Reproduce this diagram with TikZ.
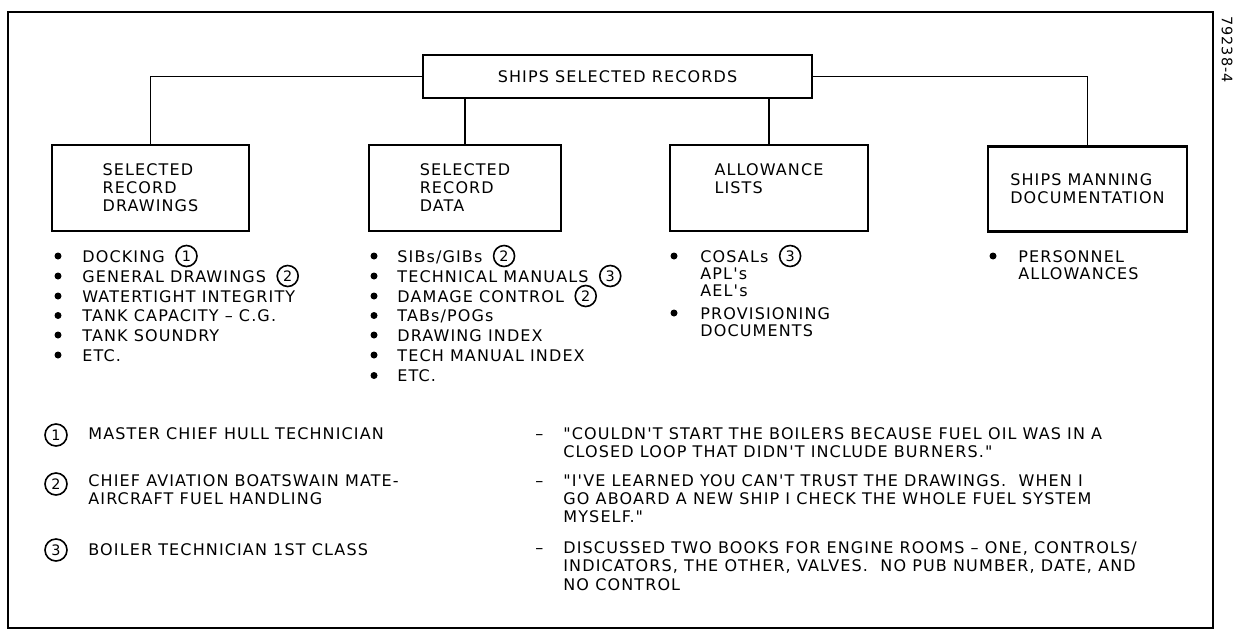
\documentclass[tikz,border=0pt]{standalone}
\usepackage{fontspec}
\newfontfamily\df[LetterSpace=7]{DejaVu Sans}
\newcommand\lab{\df\fontsize{8.0}{9}\selectfont}
\newcommand\smalllab{\df\fontsize{7.2}{7}\selectfont}
\begin{document}
\begin{tikzpicture}[x=0.5pt,y=-0.5pt,
  box/.style={draw, line width=1.35pt, align=left, font=\lab, inner sep=0pt},
  conn/.style={line width=0.75pt},
  txt/.style={anchor=base west, inner sep=0pt, font=\lab},
  cn/.style={circle, draw, line width=0.8pt, minimum size=10.5pt, inner sep=0pt, font=\smalllab},
  bul/.style={circle, fill, minimum size=3.5pt, inner sep=0pt}]
\useasboundingbox (0,0) rectangle (1234,632);
% frame
\draw[line width=0.75pt] (8,12) rectangle (1213,628);
\node[rotate=-90, anchor=west, inner sep=0pt, font=\smalllab] (code) at (1227,16) {79238-4};
% boxes
\node[box, minimum width=194.5pt, minimum height=21.5pt] (top) at (617.5,76.5) {SHIPS SELECTED RECORDS};
\node[box, minimum width=98.5pt, minimum height=43pt] (b1) at (150.5,188) {SELECTED\\RECORD\\DRAWINGS};
\node[box, minimum width=96pt, minimum height=43pt] (b2) at (465,188) {SELECTED\\RECORD\\DATA};
\node[box, minimum width=99pt, minimum height=43pt] (b3) at (769,188) {ALLOWANCE\\LISTS\\\mbox{}};
\node[box, minimum width=99.5pt, minimum height=42.5pt] (b4) at (1087.5,189) {SHIPS MANNING\\DOCUMENTATION};
% connectors
\draw[conn] (top.west) -| (b1.north);
\draw[conn] (top.east) -| (b4.north);
\draw[conn] (b2.north) -- (b2.north |- top.south);
\draw[conn] (b3.north) -- (b3.north |- top.south);
% column 1
\node[bul] (u11) at (58,256) {};
\node[txt] (t11) at (82,262) {DOCKING};
\node[cn, anchor=west] (c11) at ([xshift=5]t11.east |- u11) {1};
\node[bul] (u12) at (58,276) {};
\node[txt] (t12) at (82,282) {GENERAL DRAWINGS};
\node[cn, anchor=west] (c12) at ([xshift=5]t12.east |- u12) {2};
\node[bul] (u13) at (58,296) {};
\node[txt] (t13) at (82,302) {WATERTIGHT INTEGRITY};
\node[bul] (u14) at (58,315.5) {};
\node[txt] (t14) at (82,321.5) {TANK CAPACITY – C.G.};
\node[bul] (u15) at (58,335) {};
\node[txt] (t15) at (82,341) {TANK SOUNDRY};
\node[bul] (u16) at (58,355) {};
\node[txt] (t16) at (82,361) {ETC.};
% column 2
\node[bul] (u21) at (374,256) {};
\node[txt] (t21) at (397,262) {SIBs/GIBs};
\node[cn, anchor=west] (c21) at ([xshift=5]t21.east |- u21) {2};
\node[bul] (u22) at (374,276) {};
\node[txt] (t22) at (397,282) {TECHNICAL MANUALS};
\node[cn, anchor=west] (c22) at ([xshift=5]t22.east |- u22) {3};
\node[bul] (u23) at (374,296) {};
\node[txt] (t23) at (397,302) {DAMAGE CONTROL};
\node[cn, anchor=west] (c23) at ([xshift=5]t23.east |- u23) {2};
\node[bul] (u24) at (374,315.5) {};
\node[txt] (t24) at (397,321.5) {TABs/POGs};
\node[bul] (u25) at (374,335) {};
\node[txt] (t25) at (397,341) {DRAWING INDEX};
\node[bul] (u26) at (374,355) {};
\node[txt] (t26) at (397,361) {TECH MANUAL INDEX};
\node[bul] (u27) at (374,375.5) {};
\node[txt] (t27) at (397,381.5) {ETC.};
% column 3
\node[bul] (u31) at (674,256) {};
\node[txt] (t31) at (700,262) {COSALs};
\node[cn, anchor=west] (c31) at ([xshift=5]t31.east |- u31) {3};
\node[txt] (t32) at (700,279) {APL's};
\node[txt] (t33) at (700,296) {AEL's};
\node[bul] (u34) at (674,313) {};
\node[txt] (t34) at (700,319) {PROVISIONING};
\node[txt] (t35) at (700,336) {DOCUMENTS};
% column 4
\node[bul] (u41) at (993,256) {};
\node[txt] (t41) at (1018,262) {PERSONNEL};
\node[txt] (t42) at (1018,279) {ALLOWANCES};
% legend
\node[cn, minimum size=11pt] (n1) at (56,435) {1};
\node[txt] (l1) at (88,439) {MASTER CHIEF HULL TECHNICIAN};
\node[txt] (d1) at (535,439) {–};
\node[txt] (q1a) at (563,439) {"COULDN'T START THE BOILERS BECAUSE FUEL OIL WAS IN A};
\node[txt] (q1b) at (563,457) {CLOSED LOOP THAT DIDN'T INCLUDE BURNERS."};
\node[cn, minimum size=11pt] (n2) at (56,484) {2};
\node[txt] (l2a) at (88,486) {CHIEF AVIATION BOATSWAIN MATE-};
\node[txt] (l2b) at (88,504) {AIRCRAFT FUEL HANDLING};
\node[txt] (d2) at (535,486) {–};
\node[txt] (q2a) at (563,486) {"I'VE LEARNED YOU CAN'T TRUST THE DRAWINGS.\ \ WHEN I};
\node[txt] (q2b) at (563,504) {GO ABOARD A NEW SHIP I CHECK THE WHOLE FUEL SYSTEM};
\node[txt] (q2c) at (563,522) {MYSELF."};
\node[cn, minimum size=11pt] (n3) at (56,550) {3};
\node[txt] (l3) at (88,555) {BOILER TECHNICIAN 1ST CLASS};
\node[txt] (d3) at (535,553) {–};
\node[txt] (q3a) at (563,553) {DISCUSSED TWO BOOKS FOR ENGINE ROOMS – ONE, CONTROLS/};
\node[txt] (q3b) at (563,571.5) {INDICATORS, THE OTHER, VALVES.\ \ NO PUB NUMBER, DATE, AND};
\node[txt] (q3c) at (563,590) {NO CONTROL};
\end{tikzpicture}
\end{document}
